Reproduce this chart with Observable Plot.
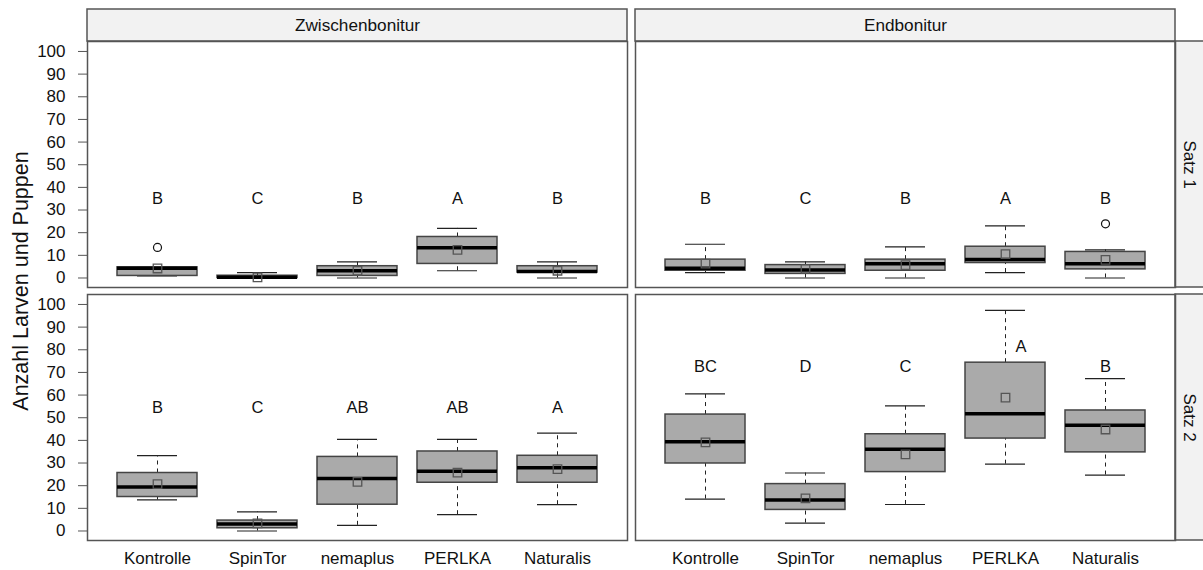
<!DOCTYPE html>
<html>
<head>
<meta charset="utf-8">
<script src="https://cdn.jsdelivr.net/npm/d3@7"></script>
<script src="https://cdn.jsdelivr.net/npm/@observablehq/plot@0.6"></script>
<style>
  html, body { margin: 0; padding: 0; background: #fff; }
  #chart { width: 1203px; height: 570px; }
</style>
</head>
<body>
<div id="chart"></div>
<script>
// ---- categories ----
const treatments = ["Kontrolle", "SpinTor", "nemaplus", "PERLKA", "Naturalis"];
const bonituren = ["Zwischenbonitur", "Endbonitur"];
const saetze = ["Satz 1", "Satz 2"];
const yTitle = "Anzahl Larven und Puppen";
const yTicks = [0, 10, 20, 30, 40, 50, 60, 70, 80, 90, 100];

// ---- box statistics per treatment: [whiskerLow, q1, median, q3, whiskerHigh, mean] ----
const zwischenSatz1 = [
  [0.9, 0.9, 4.3, 4.7, 4.7, 4.2],
  [0, 0, 0.3, 1.0, 2.4, 0.3],
  [0, 0.9, 3.2, 5.2, 7.1, 3.2],
  [3.2, 6.2, 13.4, 18.1, 21.9, 12.4],
  [0, 2.4, 2.9, 5.2, 7.1, 3.2]
];
const endSatz1 = [
  [2.4, 3.2, 4.3, 8.1, 14.9, 6.3],
  [0, 1.8, 3.5, 5.7, 7.1, 4.0],
  [0, 3.2, 6.3, 8.1, 13.7, 5.7],
  [2.4, 6.6, 8.2, 13.8, 23.0, 10.5],
  [0, 3.8, 6.3, 11.5, 12.4, 8.0]
];
const zwischenSatz2 = [
  [13.7, 15.0, 19.4, 25.6, 33.3, 20.7],
  [0, 1.2, 3.1, 4.6, 8.4, 3.4],
  [2.5, 11.6, 23.2, 32.7, 40.4, 21.7],
  [7.2, 21.3, 26.4, 35.1, 40.4, 25.8],
  [11.6, 21.3, 27.9, 33.2, 43.2, 27.3]
];
const endSatz2 = [
  [14.1, 29.8, 39.4, 51.4, 60.5, 39.1],
  [3.5, 9.3, 13.7, 20.7, 25.6, 14.4],
  [11.7, 26.0, 36.1, 42.7, 55.2, 33.8],
  [29.5, 40.8, 51.8, 74.3, 97.4, 58.9],
  [24.7, 34.7, 46.7, 53.2, 67.3, 44.8]
];

// ---- outliers ----
const outlierBonitur = ["Zwischenbonitur", "Endbonitur"];
const outlierSatz = ["Satz 1", "Satz 1"];
const outlierTreatment = ["Kontrolle", "Naturalis"];
const outlierValue = [13.5, 23.9];

// ---- significance letters and their heights ----
const lettersZwischen1 = ["B", "C", "B", "A", "B"];
const lettersEnd1 = ["B", "C", "B", "A", "B"];
const lettersZwischen2 = ["B", "C", "AB", "AB", "A"];
const lettersEnd2 = ["BC", "D", "C", "A", "B"];
const letterYZwischen1 = [35, 35, 35, 35, 35];
const letterYEnd1 = [35, 35, 35, 35, 35];
const letterYZwischen2 = [54.5, 54.5, 54.5, 54.5, 54.5];
const letterYEnd2 = [72.5, 72.5, 72.5, 81.4, 72.5];

// ---- build tables ----
const panels = [
  {bonitur: "Zwischenbonitur", satz: "Satz 1", stats: zwischenSatz1, letters: lettersZwischen1, ly: letterYZwischen1},
  {bonitur: "Endbonitur", satz: "Satz 1", stats: endSatz1, letters: lettersEnd1, ly: letterYEnd1},
  {bonitur: "Zwischenbonitur", satz: "Satz 2", stats: zwischenSatz2, letters: lettersZwischen2, ly: letterYZwischen2},
  {bonitur: "Endbonitur", satz: "Satz 2", stats: endSatz2, letters: lettersEnd2, ly: letterYEnd2}
];
const boxes = [];
for (const p of panels) {
  p.stats.forEach((s, i) => {
    boxes.push({
      bonitur: p.bonitur, satz: p.satz, treatment: treatments[i],
      lo: s[0], q1: s[1], median: s[2], q3: s[3], hi: s[4], mean: s[5],
      letter: p.letters[i], letterY: p.ly[i]
    });
  });
}
const outliers = outlierValue.map((v, i) => ({
  bonitur: outlierBonitur[i], satz: outlierSatz[i], treatment: outlierTreatment[i], value: v
}));
const topStrips = bonituren.map(b => ({bonitur: b, satz: saetze[0]}));
const rightStrips = saetze.map(s => ({bonitur: bonituren[bonituren.length - 1], satz: s}));

const SVGNS = "http://www.w3.org/2000/svg";
const STRIP_FILL = "#f2f2f2";
const BORDER = "#555";

function wrapWithRect(node, x, y, w, h) {
  const g = document.createElementNS(SVGNS, "g");
  const r = document.createElementNS(SVGNS, "rect");
  r.setAttribute("x", x); r.setAttribute("y", y);
  r.setAttribute("width", w); r.setAttribute("height", h);
  r.setAttribute("fill", STRIP_FILL);
  r.setAttribute("stroke", BORDER);
  r.setAttribute("stroke-width", 1.5);
  g.appendChild(r);
  if (node) g.appendChild(node);
  return g;
}
function topStripRender(index, scales, values, dims, context, next) {
  if (!index.length) return null;
  const node = next(index, scales, values, dims, context);
  const w = dims.width - dims.marginLeft - dims.marginRight;
  return wrapWithRect(node, dims.marginLeft, dims.marginTop - 32, w, 32);
}
function rightStripRender(index, scales, values, dims, context, next) {
  if (!index.length) return null;
  const node = next(index, scales, values, dims, context);
  const h = dims.height - dims.marginTop - dims.marginBottom;
  return wrapWithRect(node, dims.width - dims.marginRight, dims.marginTop, 30, h);
}

const facet = {fx: "bonitur", fy: "satz"};
const fs = 16.5;

const chart = Plot.plot({
  width: 1203,
  height: 570,
  marginLeft: 86,
  marginRight: 28,
  marginTop: 41,
  marginBottom: 30,
  style: {fontFamily: "'Liberation Sans', Arial, sans-serif", fontSize: fs + "px", color: "#111", background: "#fff"},
  fx: {domain: bonituren, paddingInner: 0.0146, paddingOuter: 0, axis: null},
  fy: {domain: saetze, paddingInner: 0.028, paddingOuter: 0, axis: null},
  x: {domain: treatments, paddingInner: 0.2, paddingOuter: 0.3, axis: null},
  y: {domain: [-4.2, 104.4], axis: null},
  marks: [
    // strips
    Plot.text(topStrips, {...facet, text: "bonitur", frameAnchor: "top", textAnchor: "middle", lineAnchor: "middle", dy: -16, fontSize: 17.2, render: topStripRender}),
    Plot.text(rightStrips, {...facet, text: "satz", frameAnchor: "right", textAnchor: "middle", lineAnchor: "middle", dx: 14, rotate: 90, fontSize: 17, render: rightStripRender}),
    // whiskers
    Plot.ruleX(boxes, {...facet, x: "treatment", y1: "q3", y2: "hi", stroke: "#222", strokeDasharray: "4,4"}),
    Plot.ruleX(boxes, {...facet, x: "treatment", y1: "lo", y2: "q1", stroke: "#222", strokeDasharray: "4,4"}),
    Plot.tickY(boxes, {...facet, x: "treatment", y: "hi", inset: 20, stroke: "#222", strokeWidth: 1.2}),
    Plot.tickY(boxes, {...facet, x: "treatment", y: "lo", inset: 20, stroke: "#222", strokeWidth: 1.2}),
    // boxes
    Plot.barY(boxes, {...facet, x: "treatment", y1: "q1", y2: "q3", fill: "#aaaaaa", stroke: "#444", strokeWidth: 1.5}),
    Plot.tickY(boxes, {...facet, x: "treatment", y: "median", stroke: "#000", strokeWidth: 3.5}),
    // means
    Plot.dot(boxes, {...facet, x: "treatment", y: "mean", symbol: "square", r: 4.8, stroke: "#555", strokeWidth: 1.3, fill: "none"}),
    // outliers
    Plot.dot(outliers, {...facet, x: "treatment", y: "value", r: 4, stroke: "#111", strokeWidth: 1.2, fill: "#fff"}),
    // letters
    Plot.text(boxes.filter(d => d.letterY >= d.hi), {...facet, x: "treatment", y: "letterY", text: "letter", fontSize: fs}),
    Plot.text(boxes.filter(d => d.letterY < d.hi), {...facet, x: "treatment", y: "letterY", text: "letter", fontSize: fs, dx: 10, textAnchor: "start"}),
    // frames
    Plot.frame({stroke: BORDER, strokeWidth: 1.5}),
    // axes
    Plot.axisY({ticks: yTicks, tickSize: 9, tickPadding: 13, label: null, fontSize: 17, stroke: BORDER}),
    Plot.axisX({tickSize: 0, tickPadding: 11, label: null, fontSize: 17}),
    // y title
    Plot.text([yTitle], {facet: "super", frameAnchor: "left", textAnchor: "middle", lineAnchor: "middle", rotate: -90, dx: -66, dy: -10, fontSize: 21.5, text: d => d})
  ]
});
document.getElementById("chart").appendChild(chart);
</script>
</body>
</html>
